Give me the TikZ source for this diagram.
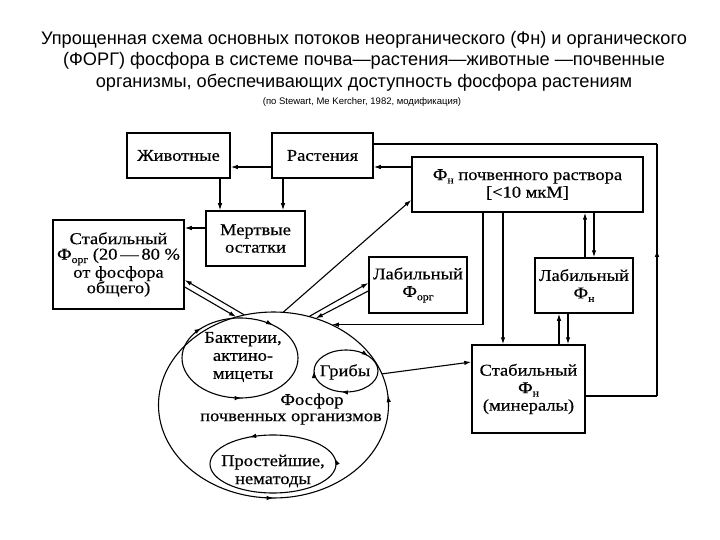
\documentclass[tikz,border=0pt]{standalone}
\usepackage{fontspec}
\newfontfamily\dia[FakeStretch=1.12,FakeBold=0.4]{Liberation Serif}
\newfontfamily\ttl{Liberation Sans}
\usetikzlibrary{shapes.geometric,arrows.meta,decorations.markings,calc}
\newcommand\lsub[1]{\raisebox{-0.45ex}{\fontsize{10.5}{10.5}\selectfont #1}}
\begin{document}
\begin{tikzpicture}[x=1pt,y=-1pt,
  >={Latex[length=7pt,width=4.5pt]},
  box/.style={draw, line width=1.5pt, align=center, inner sep=0pt, font=\dia\fontsize{16.5}{17.5}\selectfont},
  lbl/.style={align=center, inner sep=0pt, font=\dia\fontsize{16.5}{18}\selectfont},
  ln/.style={line width=1.1pt},
  arr/.style={line width=1.1pt, ->},
  midarr/.style={postaction={decorate}, decoration={markings, mark=at position #1 with {\arrow{>}}}},
  oval/.style={ellipse, inner sep=0pt, draw=none},
]
\useasboundingbox[fill=white] (0,0) rectangle (720,540);

% title
\node[font=\ttl\fontsize{18.2}{21.5}\selectfont, align=center, inner sep=0pt] (title) at (364,61)
 {Упрощенная схема основных потоков неорганического (Фн) и органического\\
  (ФОРГ) фосфора в системе почва—растения—животные —почвенные\\
  организмы, обеспечивающих доступность фосфора растениям};
\node[font=\ttl\fontsize{9.5}{10}\selectfont, inner sep=0pt] (src) at (362,102)
 {(по Stewart, Me Kercher, 1982, модификация)};

% boxes
\node[box, minimum width=103pt, minimum height=45pt] (zhiv) at (178.5,155.5) {Животные};
\node[box, minimum width=101pt, minimum height=45pt] (rast) at (322.5,155.5) {Растения};
\node[box, minimum width=99pt, minimum height=55pt] (mert) at (255.5,238.5) {Мертвые\\остатки};
\node[box, minimum width=131pt, minimum height=89pt, font=\dia\fontsize{16.5}{15.5}\selectfont] (stabF) at (118.5,264.5)
 {Стабильный\\Ф\lsub{орг} (20\,—\,80 \%\\от фосфора\\общего)};
\node[box, minimum width=231pt, minimum height=55pt] (fn) at (527.5,184.5) {Ф\lsub{н} почвенного раствора\\{[}<10 мкМ{]}};
\node[box, minimum width=98pt, minimum height=56pt] (labOrg) at (418,285) {Лабильный\\Ф\lsub{орг}};
\node[box, minimum width=98pt, minimum height=55pt] (labN) at (584,285.5) {Лабильный\\Ф\lsub{н}};
\node[box, minimum width=113pt, minimum height=88pt] (stabN) at (528.5,389) {Стабильный\\Ф\lsub{н}\\(минералы)};

% ellipses
\node[oval, minimum width=230pt, minimum height=186pt] (big) at (273.5,405) {};
\node[oval, minimum width=116pt, minimum height=80pt] (bact) at (240,358) {};
\node[oval, minimum width=64pt, minimum height=42pt] (grib) at (346,371) {};
\node[oval, minimum width=126pt, minimum height=58pt] (prost) at (273,464) {};

\draw[ln, postaction={decorate}, decoration={markings,
   mark=at position 0.25 with {\arrowreversed{>}},
   mark=at position 0.985 with {\arrowreversed{>}}}]
  (big.center) ellipse [x radius=115, y radius=93];
\draw[ln, postaction={decorate}, decoration={markings,
   mark=at position 0.245 with {\arrowreversed{>}},
   mark=at position 0.62 with {\arrow{>}},
   mark=at position 0.86 with {\arrow{>}}}]
  (bact.center) ellipse [x radius=58, y radius=40];
\draw[ln, postaction={decorate}, decoration={markings,
   mark=at position 0.28 with {\arrow{>}},
   mark=at position 0.5 with {\arrow{>}},
   mark=at position 0.89 with {\arrow{>}}}]
  (grib.center) ellipse [x radius=32, y radius=21];
\draw[ln, postaction={decorate}, decoration={markings,
   mark=at position 0.67 with {\arrowreversed{>}},
   mark=at position 0.98 with {\arrowreversed{>}}}]
  (prost.center) ellipse [x radius=63, y radius=29];

\node[lbl] (tbact) at (243,357) {Бактерии,\\актино-\\мицеты};
\node[lbl] (tgrib) at (345,372) {Грибы};
\node[lbl] (tfos1) at (312,401) {Фосфор};
\node[lbl] (tfos2) at (291,419) {почвенных организмов};
\node[lbl] (tprost) at (273,471) {Простейшие,\\нематоды};

% connectors
\draw[arr] (rast.west |- 0,167) -- (zhiv.east |- 0,167);
\draw[arr] (220,0 |- zhiv.south) -- (220,0 |- mert.north);
\draw[arr] (283,0 |- rast.south) -- (283,0 |- mert.north);
\draw[arr] (mert.west |- 0,228) -- (stabF.east |- 0,228);
\draw[arr] (fn.west |- 0,167) -- (rast.east |- 0,167);

\coordinate (lpA) at (657,396);
\coordinate (lpB) at (657,144);
\draw[ln] (stabN.east |- lpA) -- (lpA);
\draw[ln, midarr=0.58] (lpA) -- (lpB);
\draw[ln] (lpB) -- (rast.east |- lpB);

\draw[arr] (503,0 |- fn.south) -- (503,0 |- stabN.north);
\draw[arr] (483,0 |- fn.south) |- (big.54);
\draw[arr] (big.84) -- (fn.west |- 0,200);
\draw[arr] (big.108) -- (stabF.east |- 0,280);
\draw[arr] (stabF.east |- 0,287) -- (big.113);
\draw[arr] (big.68) -- (labOrg.west |- 0,283);
\draw[arr] (labOrg.west |- 0,291) -- (big.64);
\draw[arr] (big.16) -- (stabN.west |- 0,362);
\draw[arr] (585,0 |- labN.north) -- (585,0 |- fn.south);
\draw[arr] (594,0 |- fn.south) -- (594,0 |- labN.north);
\draw[arr] (559,0 |- stabN.north) -- (559,0 |- labN.south);
\draw[arr] (568,0 |- labN.south) -- (568,0 |- stabN.north);
\end{tikzpicture}
\end{document}
